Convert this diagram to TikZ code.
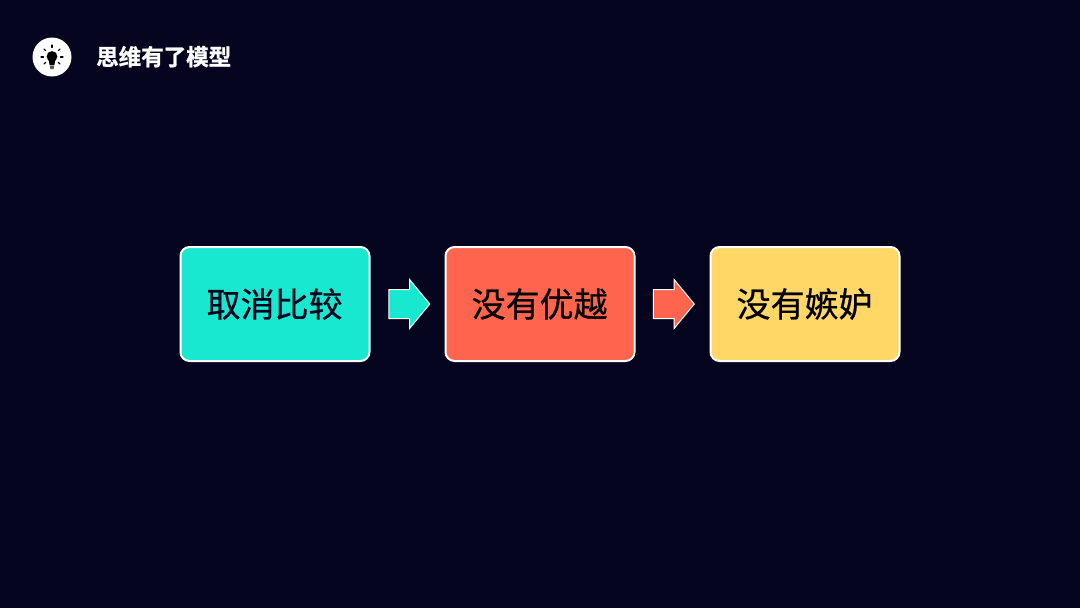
\documentclass[tikz,border=0pt]{standalone}
\usepackage{fontspec}
\usetikzlibrary{shapes.arrows}
\newfontfamily\cjk[FakeBold=0.6]{Noto Sans CJK SC}
\newfontfamily\cjkbold[FakeBold=1.2]{Noto Sans CJK SC Bold}
\definecolor{bgnavy}{HTML}{05051F}
\definecolor{teal}{HTML}{19E8D0}
\definecolor{coral}{HTML}{FF644F}
\definecolor{sand}{HTML}{FFD766}
\tikzset{
  stagebox/.style={draw=white,line width=2pt,rounded corners=9pt,minimum width=189pt,minimum height=114pt,inner sep=0pt,font=\cjk\fontsize{34}{36}\selectfont},
  flowarrow/.style={single arrow,draw=white,line width=1pt,minimum height=41pt,single arrow head extend=10pt,single arrow tip angle=101,single arrow head indent=0pt,inner sep=0pt,outer sep=0pt,anchor=tail},
  rayline/.style={black,line width=1.1pt,line cap=round}
}
\newcommand{\shaftstrut}{\rule{0pt}{28pt}}
\newcommand{\liftlabel}[1]{\raisebox{0.8pt}{\kern-0.8pt #1}}
\begin{document}
\begin{tikzpicture}[x=1pt,y=-1pt]
\useasboundingbox[fill=bgnavy] (0,0) rectangle (1080,608);
\node[circle,fill=white,minimum size=39pt,inner sep=0pt] (badge) at (52,57) {};
\fill[black] (52,56.5) circle (5.4);
\fill[black] (48.6,59) -- (55.4,59) -- (54.4,65) -- (49.6,65) -- cycle;
\fill[black!65] (49.6,65.5) -- (54.4,65.5) -- (53.6,69) -- (50.4,69) -- cycle;
\draw[rayline] (52,45) -- (52,47.5);
\draw[rayline] (44,49) -- (45.7,50.7);
\draw[rayline] (60,49) -- (58.3,50.7);
\draw[rayline] (41,57) -- (43.5,57);
\draw[rayline] (60.5,57) -- (63,57);
\draw[rayline] (44,64) -- (45.7,62.3);
\draw[rayline] (60,64) -- (58.3,62.3);
\node[text=white,font=\cjkbold\fontsize{22.5}{25}\selectfont,inner sep=0pt] (title) at (163.7,56.7) {思维有了模型};
\node[stagebox,fill=teal,text=bgnavy] (a) at (275,304) {\liftlabel{取消比较}};
\node[stagebox,fill=coral,text=black] (b) at (540,304) {\liftlabel{没有优越}};
\node[stagebox,fill=sand,text=black] (c) at (805,304) {\liftlabel{没有嫉妒}};
\node[flowarrow,fill=teal] (ab) at (388.8,304) {\shaftstrut};
\node[flowarrow,fill=coral] (bc) at (653.3,304) {\shaftstrut};
\end{tikzpicture}
\end{document}
